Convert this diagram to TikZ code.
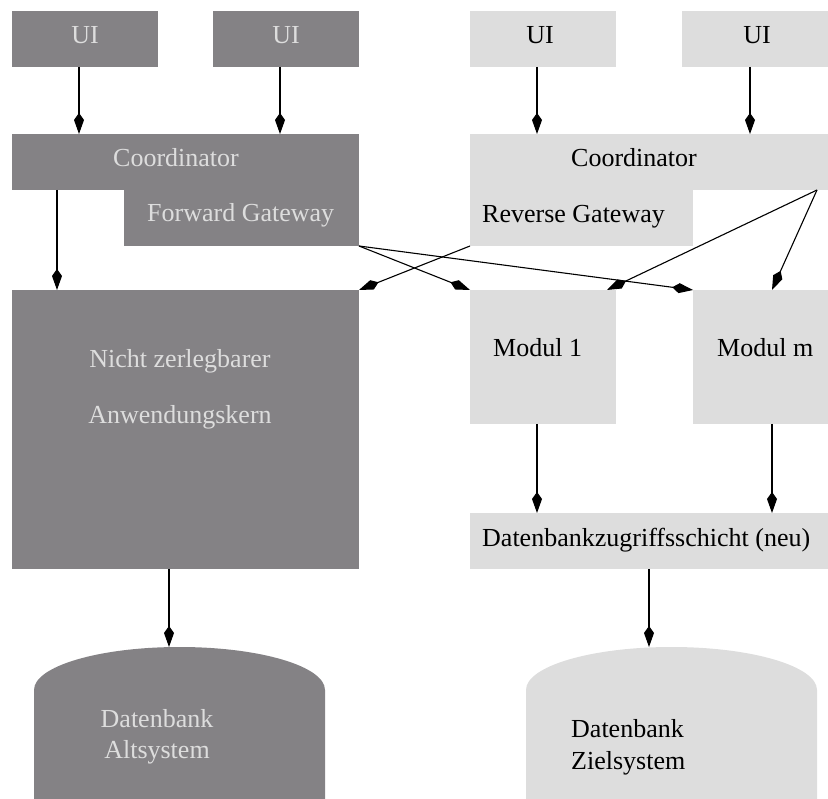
\documentclass[tikz,border=0pt]{standalone}
\usepackage{fontspec}
\setmainfont{Liberation Serif}
\usetikzlibrary{arrows.meta}
\definecolor{dk}{RGB}{132,130,133}
\definecolor{lt}{RGB}{221,221,221}
\definecolor{dtext}{RGB}{221,221,221}
\begin{document}
\begin{tikzpicture}[x=1pt,y=-1pt,
  box/.style={draw=none,inner sep=0pt,outer sep=0pt,anchor=north west},
  dkbox/.style={box,fill=dk},
  ltbox/.style={box,fill=lt},
  lbl/.style={font=\fontsize{26}{30}\selectfont,inner sep=0pt,anchor=base west},
  clbl/.style={lbl,anchor=base},
  dlbl/.style={lbl,text=dtext},
  dclbl/.style={clbl,text=dtext},
  conn/.style={line width=1.1pt,-{Kite[length=21pt,width=10pt,inset=7pt]}}]
\useasboundingbox (0,0) rectangle (828,799);

% ---------- left (old system) ----------
\node[dkbox,minimum width=146pt,minimum height=56pt] (ui1) at (12,11) {};
\node[dkbox,minimum width=146pt,minimum height=56pt] (ui2) at (213,11) {};
\node[dclbl] (ui1t) at (85,44) {UI};
\node[dclbl] (ui2t) at (286,44) {UI};

\node[dkbox,minimum width=347pt,minimum height=56pt] (coordL) at (12,134) {};
\node[dkbox,minimum width=235pt,minimum height=57pt] (fgw) at (124,189) {};
\node[dlbl] (coordLt) at (113,167) {Coordinator};
\node[dlbl] (fgwt) at (147,222) {Forward Gateway};

\node[dkbox,minimum width=347pt,minimum height=279pt] (kern) at (12,290) {};
\node[dclbl] (kern1) at (180,368) {Nicht zerlegbarer};
\node[dclbl] (kern2) at (180,424) {Anwendungskern};

\fill[dk] (34,799) -- (34,690) arc[start angle=180,end angle=360,x radius=145.5,y radius=43] -- (325,799) -- cycle;
\coordinate (dbalt) at (169,647);
\node[dclbl] (dbalt1) at (157,727) {Datenbank};
\node[dclbl] (dbalt2) at (157,758) {Altsystem};

% ---------- right (target system) ----------
\node[ltbox,minimum width=146pt,minimum height=56pt] (ui3) at (470,11) {};
\node[ltbox,minimum width=146pt,minimum height=56pt] (ui4) at (682,11) {};
\node[clbl] (ui3t) at (540,44) {UI};
\node[clbl] (ui4t) at (757,44) {UI};

\node[ltbox,minimum width=358pt,minimum height=56pt] (coordR) at (470,134) {};
\node[ltbox,minimum width=223pt,minimum height=57pt] (rgw) at (470,189) {};
\node[lbl] (coordRt) at (571,167) {Coordinator};
\node[lbl] (rgwt) at (482,223) {Reverse Gateway};

\node[ltbox,minimum width=146pt,minimum height=134pt] (mod1) at (470,290) {};
\node[ltbox,minimum width=135pt,minimum height=134pt] (modm) at (693,290) {};
\node[lbl] (mod1t) at (493,357) {Modul 1};
\node[lbl] (modmt) at (717,357) {Modul m};

\node[ltbox,minimum width=358pt,minimum height=56pt] (dal) at (470,513) {};
\node[lbl] (dalt) at (482,547) {Datenbankzugriffsschicht (neu)};

\fill[lt] (526,799) -- (526,690) arc[start angle=180,end angle=360,x radius=145.5,y radius=43] -- (817,799) -- cycle;
\coordinate (dbneu) at (649,647);
\node[lbl] (dbneu1) at (571,737) {Datenbank};
\node[lbl] (dbneu2) at (571,769) {Zielsystem};

% ---------- connectors ----------
\draw[conn] ([xshift=-6pt]ui1.south) -- ([xshift=-6pt]ui1.south |- coordL.north);
\draw[conn] ([xshift=-6pt]ui2.south) -- ([xshift=-6pt]ui2.south |- coordL.north);
\draw[conn] ([xshift=-6pt]ui3.south) -- ([xshift=-6pt]ui3.south |- coordR.north);
\draw[conn] ([xshift=-5pt]ui4.south) -- ([xshift=-5pt]ui4.south |- coordR.north);

\draw[conn] ([xshift=45pt]coordL.south west) -- ([xshift=45pt]kern.north west);
\draw[conn] (fgw.south east) -- (mod1.north west);
\draw[conn] (fgw.south east) -- (modm.north west);
\draw[conn] (rgw.south west) -- (kern.north east);
\draw[conn] ([xshift=-11pt]coordR.south east) -- ([xshift=-9pt]mod1.north east);
\draw[conn] ([xshift=-11pt]coordR.south east) -- ([xshift=11.5pt]modm.north);

\draw[conn] ([xshift=-6pt]mod1.south) -- ([xshift=-6pt]mod1.south |- dal.north);
\draw[conn] ([xshift=11.5pt]modm.south) -- ([xshift=11.5pt]modm.south |- dal.north);
\draw[conn] (kern.south -| dbalt) -- (dbalt);
\draw[conn] (dal.south -| dbneu) -- (dbneu);
\end{tikzpicture}
\end{document}
